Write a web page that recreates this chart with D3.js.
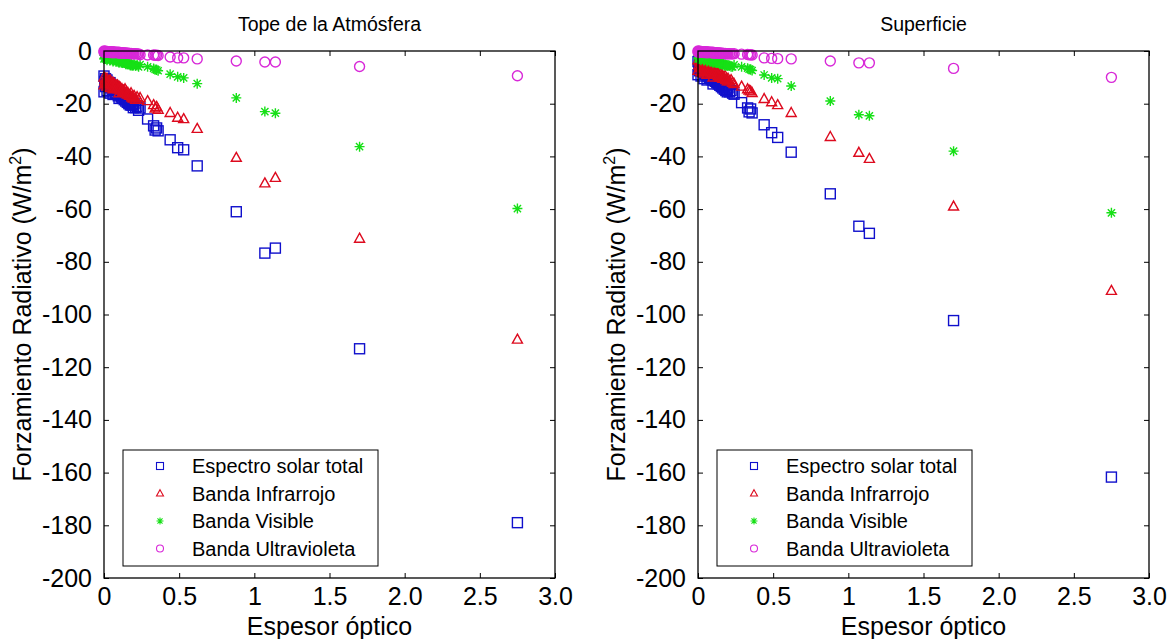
<!DOCTYPE html>
<html><head><meta charset="utf-8">
<script src="https://cdn.jsdelivr.net/npm/d3@7"></script>
<style>
body{margin:0;background:#fff}
svg{display:block;font-family:"Liberation Sans",Arial,Helvetica,sans-serif}
</style>
</head><body>
<svg id="chart" width="1173" height="639"></svg>
<script>
// ---------- data ----------
const opticalDepth = [
  0.00,0.00,0.01,0.01,0.02,0.02,0.03,0.04,0.04,0.05,0.06,0.06,0.07,0.08,0.09,
  0.10,0.10,0.11,0.12,0.13,0.14,0.15,0.16,0.17,0.18,0.19,0.20,0.21,0.22,0.23,
  0.24,0.29,0.33,0.34,0.35,0.36,0.44,0.49,0.53,0.62,0.88,1.07,1.14,1.70,2.75,
  0.005,0.015,0.025,0.035,0.045,0.055,0.065,0.075,0.085,0.095,
  0.105,0.115,0.125,0.135,0.145,0.155,0.165,0.175,0.185,0.195
];
// Tope de la Atmósfera
const toaTotal = [
  -9.5,-15.5,-10.5,-13.5,-11.0,-15.0,-12.0,-12.0,-16.0,-13.0,-13.5,-16.5,-14.0,-14.5,-15.0,
  -15.0,-18.0,-16.0,-16.5,-17.0,-17.5,-18.0,-18.5,-19.5,-19.0,-20.5,-20.0,-21.5,-21.0,-22.5,
  -21.6,-25.8,-28.4,-30.0,-29.2,-30.3,-33.7,-36.7,-37.5,-43.6,-61.0,-76.7,-74.8,-113.0,-179.0,
  -11.5,-12.5,-13.0,-13.0,-14.0,-15.0,-14.5,-16.0,-16.0,-17.0,
  -16.5,-17.5,-18.0,-18.5,-19.0,-19.5,-20.0,-20.5,-20.5,-21.5
];
const toaInfrared = [
  -10.0,-13.0,-10.5,-12.5,-10.5,-13.5,-11.5,-11.0,-14.0,-12.0,-12.0,-14.5,-12.5,-13.0,-13.0,
  -13.5,-16.0,-14.0,-14.5,-15.0,-14.5,-15.5,-16.0,-17.0,-16.0,-17.5,-17.0,-18.5,-17.5,-18.5,
  -17.8,-19.0,-20.5,-21.8,-21.2,-22.3,-23.5,-25.3,-25.8,-29.5,-40.5,-50.2,-48.1,-71.2,-109.5,
  -11.5,-12.0,-12.0,-12.5,-12.5,-13.0,-13.5,-13.5,-14.0,-14.5,
  -14.5,-15.0,-15.5,-15.5,-16.0,-16.5,-16.5,-17.0,-17.5,-18.0
];
const toaVisible = [
  -1.5,-3.0,-2.0,-3.0,-2.0,-3.5,-2.5,-2.5,-3.5,-2.5,-3.0,-4.0,-3.0,-3.0,-3.5,
  -3.5,-4.5,-3.5,-4.0,-4.0,-4.5,-4.5,-4.5,-5.0,-5.0,-5.5,-5.0,-5.5,-5.5,-6.0,
  -5.2,-6.0,-6.6,-7.0,-7.2,-7.5,-8.8,-9.8,-10.2,-12.4,-17.8,-23.0,-23.6,-36.3,-59.8,
  -2.5,-2.5,-3.0,-3.0,-3.0,-3.5,-3.5,-3.5,-4.0,-4.0,
  -4.0,-4.5,-4.5,-4.5,-5.0,-5.0,-5.0,-5.5,-5.5,-5.5
];
const toaUltraviolet = [
  0.0,-0.5,-0.1,-0.4,-0.2,-0.5,-0.3,-0.3,-0.6,-0.3,-0.4,-0.7,-0.4,-0.5,-0.5,
  -0.5,-0.8,-0.6,-0.6,-0.7,-0.7,-0.8,-0.8,-0.9,-0.9,-1.0,-1.0,-1.0,-1.1,-1.1,
  -1.4,-1.5,-1.5,-1.6,-1.6,-1.7,-2.3,-2.6,-2.6,-3.0,-3.8,-4.2,-4.2,-5.9,-9.4,
  -0.2,-0.3,-0.3,-0.4,-0.4,-0.5,-0.5,-0.6,-0.6,-0.6,
  -0.7,-0.7,-0.8,-0.8,-0.8,-0.9,-0.9,-1.0,-1.0,-1.1
];
// Superficie
const sfcTotal = [
  -4.0,-9.0,-4.5,-7.5,-5.0,-9.5,-5.5,-6.0,-10.5,-6.5,-7.0,-11.0,-7.5,-8.0,-8.5,
  -9.0,-12.5,-9.5,-10.5,-10.5,-11.5,-11.5,-12.5,-13.5,-13.0,-14.5,-14.0,-15.5,-15.0,-16.0,
  -16.4,-19.6,-21.6,-23.1,-22.0,-23.5,-28.0,-31.0,-32.8,-38.4,-54.2,-66.5,-69.2,-102.3,-161.7,
  -6.5,-7.0,-7.5,-8.0,-8.5,-9.0,-9.5,-10.0,-10.5,-11.0,
  -11.0,-11.5,-12.0,-12.5,-13.0,-13.5,-14.0,-14.5,-15.0,-15.5
];
const sfcInfrared = [
  -3.5,-7.5,-4.0,-6.5,-4.0,-8.0,-4.5,-5.0,-8.5,-5.0,-5.5,-9.0,-6.0,-6.0,-6.5,
  -6.5,-10.0,-7.0,-7.5,-8.0,-8.0,-8.5,-9.0,-10.0,-9.5,-10.5,-10.5,-11.5,-11.0,-12.0,
  -12.5,-13.5,-14.5,-15.0,-15.3,-15.9,-18.2,-19.4,-20.5,-23.5,-32.6,-38.6,-40.9,-59.0,-91.0,
  -5.5,-6.0,-6.0,-6.5,-7.0,-7.0,-7.5,-7.5,-8.0,-8.5,
  -8.5,-9.0,-9.0,-9.5,-10.0,-10.0,-10.5,-10.5,-11.0,-11.5
];
const sfcVisible = [
  -1.5,-3.0,-2.0,-3.0,-2.0,-3.5,-2.5,-2.5,-3.5,-3.0,-3.0,-4.0,-3.0,-3.5,-3.5,
  -3.5,-4.5,-4.0,-4.0,-4.0,-4.5,-4.5,-5.0,-5.0,-5.0,-5.5,-5.5,-5.5,-6.0,-6.0,
  -5.3,-6.0,-6.5,-6.9,-7.1,-7.4,-9.1,-10.2,-10.5,-13.3,-19.0,-24.2,-24.6,-38.0,-61.4,
  -2.5,-2.5,-3.0,-3.0,-3.0,-3.5,-3.5,-3.5,-4.0,-4.0,
  -4.0,-4.5,-4.5,-4.5,-5.0,-5.0,-5.0,-5.5,-5.5,-5.5
];
const sfcUltraviolet = [
  0.0,-0.5,-0.1,-0.4,-0.2,-0.5,-0.3,-0.3,-0.6,-0.3,-0.4,-0.7,-0.4,-0.5,-0.5,
  -0.5,-0.8,-0.6,-0.6,-0.7,-0.7,-0.8,-0.8,-0.9,-0.9,-1.0,-1.0,-1.0,-1.1,-1.1,
  -1.0,-1.2,-1.3,-1.4,-1.4,-1.5,-2.6,-2.8,-2.9,-3.0,-3.8,-4.5,-4.5,-6.6,-10.0,
  -0.2,-0.3,-0.3,-0.4,-0.4,-0.5,-0.5,-0.6,-0.6,-0.6,
  -0.7,-0.7,-0.8,-0.8,-0.8,-0.9,-0.9,-1.0,-1.0,-1.1
];

const seriesNames = ["Espectro solar total","Banda Infrarrojo","Banda Visible","Banda Ultravioleta"];
const panelTitles = ["Tope de la Atmósfera","Superficie"];
const xTickValues = [0,0.5,1,1.5,2,2.5,3];
const xTickLabels = ["0","0.5","1","1.5","2.0","2.5","3.0"];
const yTickValues = [0,-20,-40,-60,-80,-100,-120,-140,-160,-180,-200];
const xAxisTitle = "Espesor óptico";
const yAxisTitle = "Forzamiento Radiativo (W/m";

// ---------- drawing ----------
const svg = d3.select("#chart");
const colors = ["#1010cc","#dd0a1e","#16e016","#d828d8"];
const shapes = ["square","triangle","star","circle"];

function marker(sel, shape, s){
  if(shape==="square"){
    sel.append("rect").attr("x",-s/2).attr("y",-s/2).attr("width",s).attr("height",s);
  } else if(shape==="triangle"){
    const h=s*0.9;
    sel.append("path").attr("d",`M0,${-h*0.6}L${s*0.5},${h*0.4}L${-s*0.5},${h*0.4}Z`);
  } else if(shape==="circle"){
    sel.append("circle").attr("r",s/2);
  } else {
    const r=s/2, d=r*0.72;
    sel.append("path").attr("d",`M${-r},0L${r},0M0,${-r}L0,${r}M${-d},${-d}L${d},${d}M${-d},${d}L${d},${-d}`);
  }
}

const panels = [
  {left:104, title:panelTitles[0], series:[toaTotal,toaInfrared,toaVisible,toaUltraviolet]},
  {left:698, title:panelTitles[1], series:[sfcTotal,sfcInfrared,sfcVisible,sfcUltraviolet]}
];
const plotTop=51, W=451, H=527;

panels.forEach(p=>{
  const x = d3.scaleLinear().domain([0,3]).range([p.left,p.left+W]);
  const y = d3.scaleLinear().domain([-200,0]).range([plotTop+H,plotTop]);
  const g = svg.append("g");

  const fmtX = (d,i)=>xTickLabels[i];
  const ax = g.append("g").attr("transform",`translate(0,${plotTop+H})`)
    .call(d3.axisBottom(x).tickValues(xTickValues).tickFormat(fmtX).tickSizeInner(-5).tickSizeOuter(0).tickPadding(9));
  const ay = g.append("g").attr("transform",`translate(${p.left},0)`)
    .call(d3.axisLeft(y).tickValues(yTickValues).tickFormat(d3.format("d")).tickSizeInner(-5).tickSizeOuter(0).tickPadding(12));
  g.append("g").attr("transform",`translate(0,${plotTop})`)
    .call(d3.axisTop(x).tickValues(xTickValues).tickFormat("").tickSizeInner(-5).tickSizeOuter(0));
  g.append("g").attr("transform",`translate(${p.left+W},0)`)
    .call(d3.axisRight(y).tickValues(yTickValues).tickFormat("").tickSizeInner(-5).tickSizeOuter(0));
  g.selectAll(".domain").remove();
  g.selectAll(".tick line").attr("stroke","#000").attr("stroke-width",1);
  [ax,ay].forEach(a=>a.selectAll("text").attr("font-size",25).attr("fill","#000")
     .attr("font-family",'"Liberation Sans",Arial,sans-serif'));
  ay.selectAll("text").text(d=>d===0?"0":"-"+Math.abs(d));

  p.series.forEach((vals,si)=>{
    const sg = g.append("g").attr("fill","none").attr("stroke",colors[si]).attr("stroke-width",1.4);
    vals.forEach((v,i)=>{
      const m = sg.append("g").attr("transform",`translate(${x(opticalDepth[i])},${y(v)})`);
      marker(m, shapes[si], 10);
    });
  });

  g.append("rect").attr("x",p.left).attr("y",plotTop).attr("width",W).attr("height",H)
    .attr("fill","none").attr("stroke","#000").attr("stroke-width",1.3);

  g.append("text").attr("x",p.left+W/2).attr("y",31).attr("text-anchor","middle")
    .attr("font-size",19.5).text(p.title);
  g.append("text").attr("x",p.left+W/2).attr("y",635).attr("text-anchor","middle")
    .attr("font-size",25).text(xAxisTitle);
  const yt = g.append("text").attr("transform",`translate(${p.left-73},${plotTop+H/2}) rotate(-90)`)
    .attr("text-anchor","middle").attr("font-size",25);
  yt.append("tspan").text(yAxisTitle);
  yt.append("tspan").attr("font-size",16).attr("dy",-10).text("2");
  yt.append("tspan").attr("dy",10).text(")");

  const lx = p.left+19, ly = 450;
  const lg = g.append("g");
  lg.append("rect").attr("x",lx).attr("y",ly).attr("width",255).attr("height",116)
    .attr("fill","#fff").attr("stroke","#000").attr("stroke-width",1);
  seriesNames.forEach((name,i)=>{
    const cy = ly+16+i*27.5;
    const m = lg.append("g").attr("transform",`translate(${lx+37},${cy})`)
      .attr("fill","none").attr("stroke",colors[i]).attr("stroke-width",1.1);
    marker(m, shapes[i], 7);
    lg.append("text").attr("x",lx+69).attr("y",cy).attr("dy","0.35em")
      .attr("font-size",20).text(name);
  });
});
</script>
</body></html>
